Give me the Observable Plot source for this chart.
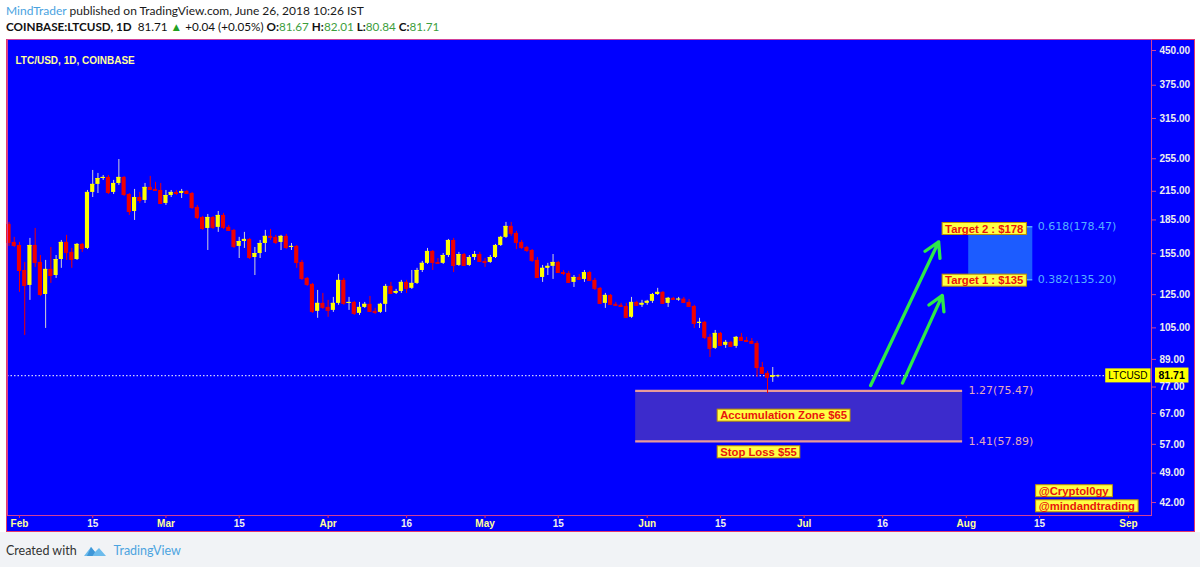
<!DOCTYPE html>
<html><head><meta charset="utf-8">
<script src="https://cdn.jsdelivr.net/npm/d3@7"></script>
<script src="https://cdn.jsdelivr.net/npm/@observablehq/plot@0.6"></script>
<style>
body{margin:0;width:1200px;height:567px;position:relative;overflow:hidden;background:#fff;font-family:Lato,"Open Sans",sans-serif}
#hdr{position:absolute;left:0;top:0;width:1200px;height:39px;background:#fff}
.l1{position:absolute;left:6px;top:3px;font-size:12px;color:#1a1a1a;white-space:nowrap}
.l2{position:absolute;left:6px;top:19px;font-size:11.7px;color:#111;white-space:nowrap}
.g{color:#3c9e3c}
#bg{position:absolute;left:6px;top:39px;width:1189px;height:493px;background:#0000ff;border:1px solid #e23a6e;box-sizing:border-box}
#chart{position:absolute;left:0;top:39px}
#ftrbg{position:absolute;left:0;top:532px;width:1200px;height:35px;background:#f1f3f6}
#ftr{position:absolute;left:6px;top:543px;font-size:12.5px;color:#333;display:flex;align-items:center;white-space:nowrap}
</style></head>
<body>
<div id="hdr">
  <div class="l1"><span style="color:#4aa3df">MindTrader</span> published on TradingView.com, June 26, 2018 10:26 IST</div>
  <div class="l2"><b>COINBASE:LTCUSD, 1D</b>&nbsp; 81.71 <span style="color:#22a022">▲</span> +0.04 (+0.05%) <b>O:</b><span class="g">81.67</span> <b>H:</b><span class="g">82.01</span> <b>L:</b><span class="g">80.84</span> <b>C:</b><span class="g">81.71</span></div>
</div>
<div id="bg"></div>
<div id="chart"></div>
<div id="ftrbg"></div>
<div id="ftr">Created with&nbsp;&nbsp;<svg width="24" height="14" viewBox="0 0 24 14"><path d="M1 12 L8 3 L12 8 L16 4 L23 12 Z" fill="#6cbbec"/><path d="M8 3 L12 8 L9.5 12 L4 12 Z" fill="#3f97d8"/></svg>&nbsp;&nbsp;<span style="color:#4ca4e0">TradingView</span></div>
<script>
// ---- data ----
const startDate = "2018-01-30";
const open = [180.7,164.4,161.8,141.9,131.2,161.8,148.0,125.1,142.7,138.2,150.3,164.4,
156.0,150.3,162.7,159.3,213.7,222.9,229.9,231.2,213.7,224.0,
231.2,211.4,193.4,208.1,204.9,219.4,217.1,215.9,201.7,210.3,
213.7,212.5,214.8,212.5,197.5,187.4,176.9,187.4,177.9,189.4,
177.9,175.1,161.0,165.2,167.0,151.9,155.1,163.5,169.7,168.8,
164.4,169.7,160.1,161.0,148.0,136.1,131.9,114.5,119.4,116.9,
115.1,119.4,134.7,119.4,120.0,113.3,116.9,118.8,114.5,113.9,
118.8,130.5,125.8,127.1,133.3,129.2,132.6,141.9,147.3,156.8,
148.0,147.3,153.5,166.1,145.7,154.3,145.7,151.9,154.3,148.8,
148.0,151.9,161.8,168.8,178.8,172.4,164.4,160.1,157.6,149.6,
136.8,143.5,145.0,148.0,140.4,139.7,133.3,136.8,135.4,140.4,
134.7,129.2,119.4,124.5,118.8,118.2,117.5,111.0,120.0,118.2,
119.4,120.7,125.1,126.5,119.4,122.6,121.9,122.1,120.0,117.5,
107.5,108.1,99.9,94.3,102.0,95.8,97.3,95.3,99.9,98.3,
97.8,96.8,85.3,82.7,81.0,81.67];
const high = [182.6,168.8,164.4,148.0,167.9,176.9,153.5,149.6,160.1,153.5,166.1,170.6,
159.3,163.5,163.5,215.9,239.8,236.1,233.6,233.6,227.6,254.0,
232.4,212.5,217.1,213.7,224.0,232.4,225.2,224.0,215.9,215.9,
215.9,217.1,215.9,213.7,199.6,188.4,190.4,188.4,193.4,191.4,
179.7,176.0,168.8,173.3,167.9,160.1,166.1,175.1,176.0,170.6,
170.6,171.5,163.5,161.8,149.6,136.8,132.6,127.8,125.8,121.3,
123.2,139.0,136.1,123.2,120.7,120.0,120.0,123.8,116.3,119.4,
131.9,133.3,128.5,134.7,134.7,141.9,143.5,148.8,159.3,157.6,
151.1,155.1,167.0,167.9,156.0,155.1,153.5,156.8,156.0,151.1,
153.5,162.7,169.7,182.6,182.6,174.2,166.1,161.0,158.4,151.9,
145.7,147.3,154.3,148.8,141.9,141.2,138.2,139.0,141.9,141.2,
136.1,129.8,125.8,125.1,120.0,119.4,119.4,123.2,120.7,121.3,
121.3,125.8,129.2,127.1,123.2,123.2,123.2,123.2,121.9,118.2,
110.4,108.6,101.4,103.6,102.5,98.3,97.8,100.4,102.0,99.9,
99.3,97.8,87.6,83.6,85.3,82.01];
const low = [161.0,160.1,126.5,100.9,121.3,144.2,123.8,104.7,132.6,136.1,143.5,149.6,
143.5,149.6,156.0,158.4,208.1,212.5,227.6,211.4,211.4,221.7,
209.2,189.4,184.5,201.7,201.7,215.9,214.8,200.6,199.6,208.1,
210.3,207.0,211.4,195.5,185.4,175.1,157.6,176.0,173.3,176.0,
174.2,159.3,151.1,159.3,150.3,138.2,151.1,156.0,166.1,162.7,
157.6,158.4,157.6,143.5,134.7,130.5,113.3,110.4,115.7,111.0,
113.9,118.2,118.2,115.1,112.1,112.1,116.3,113.9,112.7,113.3,
113.9,125.1,125.1,125.8,125.8,128.5,131.9,140.4,146.5,141.9,
146.5,146.5,151.9,140.4,145.0,145.0,145.0,149.6,148.0,144.2,
147.3,151.1,161.0,167.9,169.7,158.4,158.4,156.0,148.0,136.1,
133.3,138.2,135.4,139.7,138.2,132.6,129.8,134.7,133.3,134.0,
127.8,118.8,116.3,118.2,117.5,116.9,110.4,110.4,117.5,116.9,
118.2,119.4,124.5,118.8,116.9,121.3,120.7,119.4,116.9,104.7,
104.7,98.8,89.9,93.8,95.3,94.3,94.8,94.3,97.8,97.3,
96.3,81.0,82.3,74.4,78.9,80.84];
const close = [164.4,161.8,141.9,131.2,161.8,148.0,125.1,142.7,138.2,150.3,164.4,156.0,
150.3,162.7,159.3,213.7,222.9,229.9,231.2,213.7,224.0,231.2,
211.4,193.4,208.1,204.9,219.4,217.1,215.9,201.7,210.3,213.7,
212.5,214.8,212.5,197.5,187.4,176.9,187.4,177.9,189.4,177.9,
175.1,161.0,165.2,167.0,151.9,155.1,163.5,169.7,168.8,164.4,
169.7,160.1,161.0,148.0,136.1,131.9,114.5,119.4,116.9,115.1,
119.4,134.7,119.4,120.0,113.3,116.9,118.8,114.5,113.9,118.8,
130.5,125.8,127.1,133.3,129.2,132.6,141.9,147.3,156.8,148.0,
147.3,153.5,166.1,145.7,154.3,145.7,151.9,154.3,148.8,148.0,
151.9,161.8,168.8,178.8,172.4,164.4,160.1,157.6,149.6,136.8,
143.5,145.0,148.0,140.4,139.7,133.3,136.8,135.4,140.4,134.7,
129.2,119.4,124.5,118.8,118.2,117.5,111.0,120.0,118.2,119.4,
120.7,125.1,126.5,119.4,122.6,121.9,122.1,120.0,117.5,107.5,
108.1,99.9,94.3,102.0,95.8,97.3,95.3,99.9,98.3,97.8,
96.8,85.3,82.7,81.0,81.67,81.71];

const yTicks = [450,375,315,255,215,185,155,125,105,89,77,67,57,49,42];
const monthTickDates = ["2018-02-01","2018-03-01","2018-04-01","2018-05-01","2018-06-01","2018-07-01","2018-08-01","2018-09-01"];
const monthTickLabels = ["Feb","Mar","Apr","May","Jun","Jul","Aug","Sep"];
const dayTickDates = ["2018-02-15","2018-03-15","2018-04-16","2018-05-15","2018-06-15","2018-07-16","2018-08-15"];
const dayTickLabels = ["15","15","16","15","15","16","15"];

const lastPrice = 81.71;
const symbolLabel = "LTCUSD";
const chartTitle = "LTC/USD, 1D, COINBASE";

const fibZoneDates = ["2018-05-29T19:00Z","2018-07-31T07:00Z"];
const fibZoneLevels = [75.47, 57.89];
const fibZoneTexts = ["1.27(75.47)","1.41(57.89)"];

const targetDates = ["2018-08-01T11:00Z","2018-08-13T17:00Z"];
const targetLevels = [178.47, 135.20];
const targetTexts = ["0.618(178.47)","0.382(135.20)"];

const arrowStartDates = ["2018-07-13T17:00Z","2018-07-19T19:00Z"];
const arrowStartPrices = [77.6, 78.6];
const arrowEndDates = ["2018-07-26T17:00Z","2018-07-27T10:00Z"];
const arrowEndPrices = [164.9, 124.5];

const noteTexts = ["Target 2 : $178","Target 1 : $135","Accumulation Zone $65","Stop Loss $55","@Cryptol0gy","@mindandtrading"];
const noteDates = ["2018-07-27T09:00Z","2018-07-27T09:00Z","2018-06-14T09:00Z","2018-06-14T09:00Z","2018-08-14T06:00Z","2018-08-14T06:00Z"];
const notePrices = [176.5, 134.6, 66.3, 54.7, 44.6, 41.2];

// ---- build tables ----
const DAY = 864e5, HALF = 9.5 * 3600e3;
const t0 = new Date(startDate);
const candles = open.map((o, i) => ({date: new Date(+t0 + i * DAY), open: o, high: high[i], low: low[i], close: close[i]}));
const up = candles.filter(d => d.close >= d.open);
const down = candles.filter(d => d.close < d.open);
const bx1 = d => new Date(+d.date - HALF), bx2 = d => new Date(+d.date + HALF);
const fibZone = [{x1: new Date(fibZoneDates[0]), x2: new Date(fibZoneDates[1]), y1: fibZoneLevels[1], y2: fibZoneLevels[0]}];
const fibLines = fibZoneLevels.map((v, i) => ({x1: new Date(fibZoneDates[0]), x2: new Date(fibZoneDates[1]), y: v, text: fibZoneTexts[i]}));
const tgtZone = [{x1: new Date(targetDates[0]), x2: new Date(targetDates[1]), y1: targetLevels[1], y2: targetLevels[0]}];
const tgtLines = targetLevels.map((v, i) => ({x1: new Date(targetDates[0]), x2: new Date(targetDates[1]), y: v, text: targetTexts[i]}));
const arrows = arrowStartDates.map((d, i) => ({x1: new Date(d), y1: arrowStartPrices[i], x2: new Date(arrowEndDates[i]), y2: arrowEndPrices[i]}));
const notes = noteTexts.map((t, i) => ({text: t, x: new Date(noteDates[i]), y: notePrices[i]}));
const mTicks = monthTickDates.map(d => new Date(d)), dTicks = dayTickDates.map(d => new Date(d));
const mLab = new Map(mTicks.map((d, i) => [+d, monthTickLabels[i]]));
const dLab = new Map(dTicks.map((d, i) => [+d, dayTickLabels[i]]));

const feb1 = +new Date("2018-02-01");
const AX = "Liberation Sans, Arial, sans-serif";
const pink = "#d0409a";

const chart = Plot.plot({
  width: 1200, height: 493,
  marginLeft: 7, marginRight: 49, marginTop: 0, marginBottom: 17,
  style: {background: "transparent", fontFamily: AX, overflow: "visible"},
  x: {type: "utc", domain: [new Date(feb1 - 2.29 * DAY), new Date(feb1 + 216.4 * DAY)]},
  y: {type: "log", domain: [39.24, 476.7]},
  marks: [
    Plot.rect(fibZone, {x1: "x1", x2: "x2", y1: "y1", y2: "y2", fill: "#3c2bcc"}),
    Plot.ruleY(fibLines, {x1: "x1", x2: "x2", y: "y", stroke: "#e89a9a", strokeWidth: 2.2}),
    Plot.text(fibLines, {x: "x2", y: "y", text: "text", textAnchor: "start", dx: 6, fill: "#e3aabb", fontSize: 11, fontFamily: "DejaVu Sans"}),
    Plot.rect(tgtZone, {x1: "x1", x2: "x2", y1: "y1", y2: "y2", fill: "#1c5cff"}),
    Plot.ruleY(tgtLines, {x1: "x1", x2: "x2", y: "y", stroke: "#55aaff", strokeWidth: 1.5}),
    Plot.text(tgtLines, {x: "x2", y: "y", text: "text", textAnchor: "start", dx: 5, fill: "#55b0ff", fontSize: 11, fontFamily: "DejaVu Sans"}),
    Plot.ruleY([lastPrice], {stroke: "#ffffff", strokeDasharray: "1.5,2", strokeWidth: 1}),
    Plot.ruleX(up, {x: "date", y1: "low", y2: "high", stroke: "#d4d4d4", strokeWidth: 1}),
    Plot.ruleX(down, {x: "date", y1: "low", y2: "high", stroke: "#f00000", strokeWidth: 1}),
    Plot.rect(up, {x1: bx1, x2: bx2, y1: "open", y2: "close", fill: "#ffff00"}),
    Plot.rect(down, {x1: bx1, x2: bx2, y1: "open", y2: "close", fill: "#f00000"}),
    Plot.ruleY(up, {x1: bx1, x2: bx2, y: "close", stroke: "#ffff00"}),
    Plot.ruleY(down, {x1: bx1, x2: bx2, y: "close", stroke: "#f00000"}),
    Plot.arrow(arrows, {x1: "x1", y1: "y1", x2: "x2", y2: "y2", stroke: "#2ee84a", strokeWidth: 3.3, headLength: 7.5, headAngle: 60}),
    Plot.text(notes, {x: "x", y: "y", text: "text", textAnchor: "start", dx: 3, fill: "#e8160c", fontWeight: "bold", fontSize: 11.3, fontFamily: AX, className: "boxed"}),
    Plot.text([chartTitle], {frameAnchor: "top-left", dx: 8, dy: 17.7, textAnchor: "start", fill: "#ffff99", fontWeight: "bold", fontSize: 10, fontFamily: AX}),
    Plot.text([symbolLabel], {y: [lastPrice], frameAnchor: "right", dx: -4, textAnchor: "end", fill: "#000", fontSize: 10, fontFamily: AX, className: "ybox"}),
    Plot.text([lastPrice.toFixed(2)], {y: [lastPrice], frameAnchor: "right", dx: 7, textAnchor: "start", fill: "#000", fontWeight: "bold", fontSize: 10.5, fontFamily: AX, className: "ybox2"}),
    Plot.frame({stroke: pink}),
    Plot.axisY({anchor: "right", ticks: yTicks, tickFormat: d => d.toFixed(2), tickSize: 4, tickPadding: 4, stroke: pink, fill: "#eeeeee", fontWeight: "bold", fontSize: 10, label: null}),
    Plot.axisX({ticks: mTicks, tickFormat: d => mLab.get(+d), tickSize: 3, tickPadding: 1, stroke: "#e0306a", fill: "#ffff99", fontWeight: "bold", fontSize: 10, label: null}),
    Plot.axisX({ticks: dTicks, tickFormat: d => dLab.get(+d), tickSize: 3, tickPadding: 1, stroke: "#e0306a", fill: "#eeeeee", fontWeight: "bold", fontSize: 10, label: null})
  ]
});
document.getElementById("chart").appendChild(chart);

function addBoxes(cls, fill, stroke, padX, padY) {
  chart.querySelectorAll(`g.${cls} text`).forEach(t => {
    const b = t.getBBox();
    const r = document.createElementNS("http://www.w3.org/2000/svg", "rect");
    r.setAttribute("x", b.x - padX);
    r.setAttribute("y", b.y - padY);
    r.setAttribute("width", b.width + 2 * padX);
    r.setAttribute("height", b.height + 2 * padY);
    r.setAttribute("fill", fill);
    r.setAttribute("stroke", stroke);
    r.setAttribute("stroke-width", 1);
    const tr = t.getAttribute("transform");
    if (tr) r.setAttribute("transform", tr);
    t.parentNode.insertBefore(r, t);
  });
}
addBoxes("boxed", "#ffff44", "#c09000", 3, 0);
addBoxes("ybox", "#ffff00", "none", 3, 1.5);
addBoxes("ybox2", "#ffff00", "none", 3.5, 1.5);
</script>
</body></html>
